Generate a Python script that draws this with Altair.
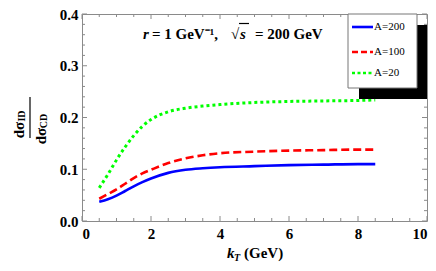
import altair as alt
import pandas as pd

# ---- data ----
kt = [0.5, 0.75, 1.0, 1.25, 1.5, 1.75, 2.0, 2.5, 3.0, 3.5, 4.0, 5.0, 6.0, 7.0, 8.0, 8.5]
a200 = [0.037, 0.042, 0.049, 0.058, 0.067, 0.075, 0.082, 0.093, 0.099, 0.102, 0.104, 0.106, 0.108, 0.109, 0.110, 0.110]
a100 = [0.043, 0.052, 0.061, 0.072, 0.083, 0.092, 0.099, 0.112, 0.121, 0.127, 0.131, 0.134, 0.136, 0.137, 0.138, 0.138]
a20 = [0.064, 0.090, 0.118, 0.143, 0.165, 0.183, 0.196, 0.211, 0.218, 0.222, 0.225, 0.229, 0.231, 0.232, 0.233, 0.234]
series_names = ["A=200", "A=100", "A=20"]
series_colors = ["#0000FF", "#FF0000", "#00FF00"]

x_major = [0, 2, 4, 6, 8, 10]
x_minor = [0.5, 1, 1.5, 2.5, 3, 3.5, 4.5, 5, 5.5, 6.5, 7, 7.5, 8.5, 9, 9.5]
y_major = [0.0, 0.1, 0.2, 0.3, 0.4]
y_minor = [0.02, 0.04, 0.06, 0.08, 0.12, 0.14, 0.16, 0.18, 0.22, 0.24, 0.26, 0.28, 0.32, 0.34, 0.36, 0.38]

W, H = 345, 207
TOP = 6  # plot top at page y = 8 + TOP
SERIF = "Liberation Serif"
GRAY = "#8a8a8a"

xs = alt.Scale(domain=[0, 10], nice=False, zero=False)
ys = alt.Scale(domain=[0, 0.4], nice=False, zero=False)

x_axis = alt.Axis(values=x_major, domain=False, ticks=False, grid=False,
                  labelFont=SERIF, labelFontWeight="bold", labelFontSize=15,
                  labelColor="black", labelPadding=5, title=None)
y_axis = alt.Axis(values=y_major, format=".1f", domain=False, ticks=False, grid=False,
                  labelFont=SERIF, labelFontWeight="bold", labelFontSize=15,
                  labelColor="black", labelPadding=4, title=None)


def curve(vals, color, dash, width):
    df = pd.DataFrame({"kt": kt, "v": vals})
    kw = dict(color=color, strokeWidth=width, interpolate="monotone")
    if dash:
        kw["strokeDash"] = dash
    return alt.Chart(df).mark_line(**kw).encode(
        x=alt.X("kt:Q", scale=xs, axis=x_axis),
        y=alt.Y("v:Q", scale=ys, axis=y_axis))


blue = curve(a200, series_colors[0], None, 2.6)
red = curve(a100, series_colors[1], [8, 4], 2.6)
green = curve(a20, series_colors[2], [3, 3], 3)


def xticks(vals, length):
    df = pd.DataFrame({"t": vals})
    b = alt.Chart(df).mark_rule(color=GRAY, strokeWidth=1).encode(
        x=alt.X("t:Q", scale=xs, axis=x_axis), y=alt.value(H), y2=alt.value(H - length))
    t = alt.Chart(df).mark_rule(color=GRAY, strokeWidth=1).encode(
        x=alt.X("t:Q", scale=xs, axis=x_axis), y=alt.value(0), y2=alt.value(length))
    return b + t


def yticks(vals, length):
    df = pd.DataFrame({"t": vals})
    l = alt.Chart(df).mark_rule(color=GRAY, strokeWidth=1).encode(
        y=alt.Y("t:Q", scale=ys, axis=y_axis), x=alt.value(0), x2=alt.value(length))
    r = alt.Chart(df).mark_rule(color=GRAY, strokeWidth=1).encode(
        y=alt.Y("t:Q", scale=ys, axis=y_axis), x=alt.value(W), x2=alt.value(W - length))
    return l + r


ticks = xticks(x_major, 5) + xticks(x_minor, 3) + yticks(y_major, 5) + yticks(y_minor, 3)

one = pd.DataFrame({"a": [0]})


def txt(s, x, y, size=14, weight="bold", style="normal", align="left", baseline="alphabetic", angle=None):
    kw = dict(text=s, fontSize=size, fontWeight=weight, fontStyle=style, align=align,
              baseline=baseline, font=SERIF, color="black")
    if angle is not None:
        kw["angle"] = angle
    return alt.Chart(one).mark_text(**kw).encode(x=alt.value(x), y=alt.value(y))


def rule(x1, x2, y1, y2, color="black", width=1.0, dash=None):
    kw = dict(color=color, strokeWidth=width)
    if dash:
        kw["strokeDash"] = dash
    return alt.Chart(one).mark_rule(**kw).encode(
        x=alt.value(x1), x2=alt.value(x2), y=alt.value(y1), y2=alt.value(y2))


# page coords -> plot coords
def px(x):
    return x - 82


def py(y):
    return y - 8 - TOP


# annotation
ann = (txt("r", px(143), py(39), size=15, style="italic")
       + txt("= 1 GeV⁻¹,", px(152), py(39), size=15)
       + txt("√", px(231), py(39), size=15)
       + txt("s", px(240), py(39), size=15, style="italic")
       + rule(px(239), px(249), py(23.5), py(23.5), width=1.2)
       + txt("= 200 GeV", px(255), py(39), size=15))

# x title
xt = (txt("k", px(227), py(258), size=15, style="italic")
      + txt("T", px(234), py(261), size=10, style="italic")
      + txt("(GeV)", px(244), py(258), size=15))

# y title fraction (rotated, reads bottom to top)
yt = (txt("dσ", px(19), py(130), size=15, angle=270, align="center", baseline="middle")
      + txt("ID", px(22), py(116), size=10, angle=270, align="center", baseline="middle")
      + rule(px(30), px(30), py(97), py(138), width=1.2)
      + txt("dσ", px(41), py(136), size=15, angle=270, align="center", baseline="middle")
      + txt("CD", px(44), py(121), size=10, angle=270, align="center", baseline="middle"))

# legend
shadow = alt.Chart(one).mark_rect(color="black").encode(
    x=alt.value(px(359)), x2=alt.value(px(427)), y=alt.value(py(25)), y2=alt.value(py(99)))
box = alt.Chart(one).mark_rect(fill="white", stroke="#777777", strokeWidth=1).encode(
    x=alt.value(px(348)), x2=alt.value(px(417)), y=alt.value(py(14)), y2=alt.value(py(88)))
leg_y = [py(27), py(52), py(73)]
legend = (shadow + box
          + rule(px(352), px(373), leg_y[0], leg_y[0], series_colors[0], 2.6)
          + rule(px(352), px(373), leg_y[1], leg_y[1], series_colors[1], 2.6, [6, 3])
          + rule(px(352), px(373), leg_y[2], leg_y[2], series_colors[2], 2.6, [3, 2.5])
          + txt(series_names[0], px(374), leg_y[0], size=11, weight="normal", baseline="middle")
          + txt(series_names[1], px(374), leg_y[1], size=11, weight="normal", baseline="middle")
          + txt(series_names[2], px(374), leg_y[2], size=11, weight="normal", baseline="middle"))

chart = alt.layer(ticks, green, red, blue, legend, ann, xt, yt).properties(
    width=W, height=H,
    autosize=alt.AutoSizeParams(type="none"),
    padding={"left": 74, "top": TOP, "right": 1, "bottom": 271 - 16 - H - TOP},
).configure_view(stroke=GRAY, strokeWidth=1)

chart.save("out.html", embed_options={"renderer": "svg", "actions": False})
